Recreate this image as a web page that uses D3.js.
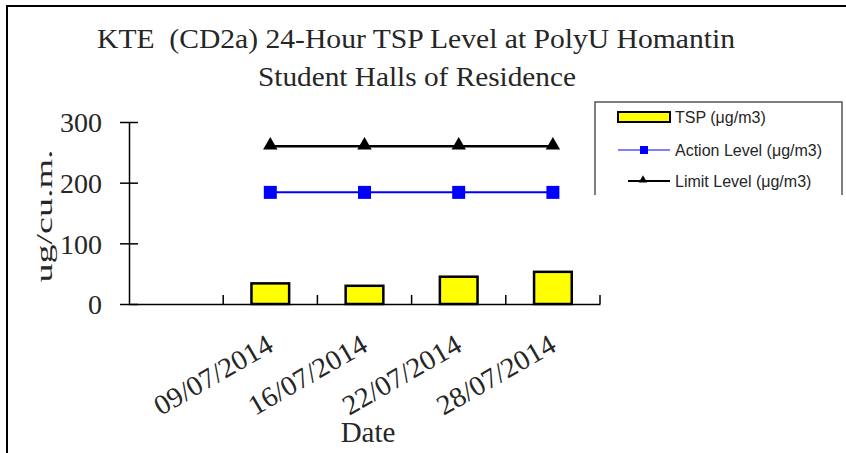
<!DOCTYPE html>
<html>
<head>
<meta charset="utf-8">
<script src="https://cdn.jsdelivr.net/npm/d3@7"></script>
<style>
  html, body { margin: 0; padding: 0; background: #fff; }
  svg { display: block; }
  text { white-space: pre; }
</style>
</head>
<body>
<svg id="chart" width="846" height="453"></svg>
<script>
const titleLines = ["KTE  (CD2a) 24-Hour TSP Level at PolyU Homantin", "Student Halls of Residence"];
const categories = ["", "09/07/2014", "16/07/2014", "22/07/2014", "28/07/2014"];
const tspValues = [null, 34, 30, 45, 53];
const actionLevel = [null, 184, 184, 184, 184];
const limitLevel = [null, 260, 260, 260, 260];
const yTicks = [0, 100, 200, 300];
const legendLabels = ["TSP (\u03bcg/m3)", "Action Level (\u03bcg/m3)", "Limit Level (\u03bcg/m3)"];
const yTitle = "ug/cu.m.";
const xTitle = "Date";

const svg = d3.select("#chart");
const serif = "'Liberation Serif', 'Times New Roman', serif";
const sans = "'Liberation Sans', Arial, sans-serif";
const ink = "#262626";

// outer frame (top and left edges visible)
svg.append("path").attr("d", "M7,453 L7,6 L846,6").attr("fill", "none").attr("stroke", "#000").attr("stroke-width", 2);

// title
svg.append("text").attr("x", 416).attr("y", 48).attr("text-anchor", "middle")
  .attr("font-family", serif).attr("font-size", 28).attr("fill", ink)
  .attr("textLength", 638).attr("lengthAdjust", "spacingAndGlyphs").text(titleLines[0]);
svg.append("text").attr("x", 417).attr("y", 86).attr("text-anchor", "middle")
  .attr("font-family", serif).attr("font-size", 28).attr("fill", ink)
  .attr("textLength", 318).attr("lengthAdjust", "spacingAndGlyphs").text(titleLines[1]);

const x = d3.scaleBand().domain(d3.range(categories.length)).range([129, 600]).paddingInner(0).paddingOuter(0);
const y = d3.scaleLinear().domain([0, 300]).range([304, 122]);
const bw = x.bandwidth();
const cx = i => x(i) + bw / 2;

// y axis
const yAxis = svg.append("g").attr("transform", "translate(129,0)")
  .call(d3.axisLeft(y).tickValues(yTicks).tickSize(9).tickPadding(18).tickSizeOuter(0));
yAxis.select(".domain").attr("stroke", "#000").attr("stroke-width", 1.5);
yAxis.selectAll(".tick line").attr("stroke", "#000").attr("stroke-width", 1.5).attr("x2", -9).attr("x1", 9);
yAxis.selectAll(".tick text").attr("font-family", serif).attr("font-size", 28).attr("fill", ink).attr("dy", "0.35em");

// x axis line and inner ticks at band boundaries
const xAxis = svg.append("g").attr("transform", "translate(0,304)")
  .call(d3.axisBottom(x).tickValues([]).tickSizeOuter(0));
xAxis.select(".domain").attr("stroke", "#000").attr("stroke-width", 1.5);
const boundaries = d3.range(1, categories.length + 1).map(i => i < categories.length ? x(i) : x(i - 1) + bw);
xAxis.selectAll("line.bt").data(boundaries).join("line").attr("class", "bt")
  .attr("x1", d => d).attr("x2", d => d).attr("y1", 0).attr("y2", -9)
  .attr("stroke", "#000").attr("stroke-width", 1.5);

// x labels rotated
svg.append("g").selectAll("text").data(categories).join("text")
  .attr("transform", (d, i) => `translate(${cx(i) - 5},${333}) rotate(-30)`)
  .attr("text-anchor", "end").attr("font-family", serif).attr("font-size", 28).attr("fill", ink)
  .attr("dy", "0.7em")
  .attr("textLength", d => d ? 132 : null).attr("lengthAdjust", "spacingAndGlyphs")
  .text(d => d);

// axis titles
svg.append("text").attr("transform", "translate(52,216) rotate(-90)").attr("text-anchor", "middle")
  .attr("font-family", serif).attr("font-size", 24).attr("fill", ink)
  .attr("textLength", 133).attr("lengthAdjust", "spacingAndGlyphs").text(yTitle);
svg.append("text").attr("x", 368).attr("y", 442).attr("text-anchor", "middle")
  .attr("font-family", serif).attr("font-size", 29).attr("fill", ink).text(xTitle);

// bars
const barW = bw * 0.4;
svg.append("g").selectAll("rect").data(tspValues.map((v, i) => ({ v, i })).filter(d => d.v != null)).join("rect")
  .attr("x", d => cx(d.i) - barW / 2).attr("y", d => y(d.v))
  .attr("width", barW).attr("height", d => y(0) - y(d.v))
  .attr("fill", "#FFFF00").attr("stroke", "#000").attr("stroke-width", 2.5);

// lines
const lineGen = d3.line().defined(d => d.v != null).x(d => cx(d.i)).y(d => y(d.v));
const actPts = actionLevel.map((v, i) => ({ v, i }));
const limPts = limitLevel.map((v, i) => ({ v, i }));
svg.append("path").datum(actPts).attr("d", lineGen).attr("fill", "none").attr("stroke", "#0000FF").attr("stroke-width", 2);
svg.append("g").selectAll("rect").data(actPts.filter(d => d.v != null)).join("rect")
  .attr("x", d => cx(d.i) - 6.5).attr("y", d => y(d.v) - 6.5).attr("width", 13).attr("height", 13).attr("fill", "#0000FF");
svg.append("path").datum(limPts).attr("d", lineGen).attr("fill", "none").attr("stroke", "#000").attr("stroke-width", 2.5);
const tri = d3.symbol().type(d3.symbolTriangle).size(90);
svg.append("g").selectAll("path").data(limPts.filter(d => d.v != null)).join("path")
  .attr("transform", d => `translate(${cx(d.i)},${y(d.v) - 1})`).attr("d", tri).attr("fill", "#000");

// legend
const lg = svg.append("g");
lg.append("path").attr("d", "M595,195 L595,102 L842,102 L842,195").attr("fill", "none").attr("stroke", "#555").attr("stroke-width", 1.5);
const ly = [117, 150, 181];
lg.append("rect").attr("x", 618).attr("y", ly[0] - 5).attr("width", 52).attr("height", 10)
  .attr("fill", "#FFFF00").attr("stroke", "#000").attr("stroke-width", 2);
lg.append("line").attr("x1", 618).attr("x2", 670).attr("y1", ly[1]).attr("y2", ly[1]).attr("stroke", "#0000FF").attr("stroke-width", 1.2);
lg.append("rect").attr("x", 640).attr("y", ly[1] - 4).attr("width", 8).attr("height", 8).attr("fill", "#0000FF");
lg.append("line").attr("x1", 628).attr("x2", 670).attr("y1", ly[2]).attr("y2", ly[2]).attr("stroke", "#000").attr("stroke-width", 2);
lg.append("path").attr("transform", `translate(643,${ly[2] - 1})`).attr("d", d3.symbol().type(d3.symbolTriangle).size(30)).attr("fill", "#000");
lg.selectAll("text").data(legendLabels).join("text")
  .attr("x", 675).attr("y", (d, i) => ly[i]).attr("dy", "0.35em")
  .attr("font-family", sans).attr("font-size", 16).attr("fill", ink).text(d => d);
</script>
</body>
</html>
